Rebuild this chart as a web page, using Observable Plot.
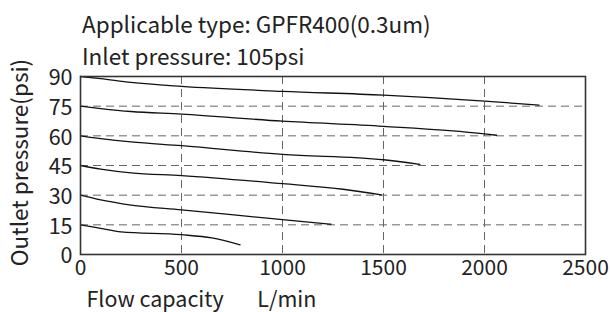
<!DOCTYPE html>
<html>
<head>
<meta charset="utf-8">
<script src="https://cdn.jsdelivr.net/npm/d3@7"></script>
<script src="https://cdn.jsdelivr.net/npm/@observablehq/plot@0.6"></script>
<style>
  html, body { margin: 0; padding: 0; background: #fff; }
  #wrap { position: relative; width: 611px; height: 312px; font-family: "Noto Sans CJK SC", "Noto Sans", sans-serif; color: #222; }
  .t { position: absolute; white-space: pre; font-size: 22.5px; line-height: 1; }
</style>
</head>
<body>
<div id="wrap">
  <div id="chart"></div>
  <div class="t" id="t1" style="left:82px; top:12px;"></div>
  <div class="t" id="t2" style="left:82px; top:44px;"></div>
</div>
<script>
const titleLine1 = "Applicable type: GPFR400(0.3um)";
const titleLine2 = "Inlet pressure: 105psi";
const xLabel = "Flow capacity       L/min";
const yLabel = "Outlet pressure(psi)";
const xTicks = [0, 500, 1000, 1500, 2000, 2500];
const yTicks = [0, 15, 30, 45, 60, 75, 90];

// Curves: flow (L/min), outlet pressure (psi)
const curve90 = [[0, 90], [100, 88.9], [250, 87], [500, 85], [1000, 82.5], [1500, 80.6], [2000, 77.6], [2270, 75.5]];
const curve75 = [[0, 75], [100, 73.8], [250, 72.3], [500, 71], [1000, 67.4], [1500, 64.8], [2000, 61], [2060, 60.3]];
const curve60 = [[0, 60], [100, 58.6], [250, 56.9], [500, 55], [1000, 50.6], [1500, 47.9], [1680, 45.6]];
const curve45 = [[0, 45], [100, 43.2], [250, 41.3], [500, 39.9], [1000, 35.8], [1300, 33], [1490, 30.2]];
const curve30 = [[0, 30], [100, 27.6], [250, 25], [500, 22.6], [1000, 17.6], [1240, 15.3]];
const curve15 = [[0, 15], [100, 13.2], [200, 11.4], [500, 10], [650, 8.4], [790, 4.9]];

const curves = [curve90, curve75, curve60, curve45, curve30, curve15];
const data = curves.flatMap((c, i) => c.map(([x, y]) => ({x, y, id: i})));

document.getElementById("t1").textContent = titleLine1;
document.getElementById("t2").textContent = titleLine2;

const font = "Noto Sans CJK SC, Noto Sans, sans-serif";
const chart = Plot.plot({
  width: 611,
  height: 312,
  marginLeft: 80,
  marginRight: 26,
  marginTop: 76,
  marginBottom: 58,
  style: {fontFamily: font, fontSize: "21px", color: "#222", background: "#fff"},
  x: {domain: [0, 2500], ticks: xTicks},
  y: {domain: [0, 90], ticks: yTicks},
  marks: [
    Plot.gridX(xTicks.slice(1, -1), {stroke: "#666", strokeOpacity: 1, strokeDasharray: "8,5", strokeWidth: 1}),
    Plot.gridY(yTicks.slice(1, -1), {stroke: "#666", strokeOpacity: 1, strokeDasharray: "8,5", strokeWidth: 1}),
    Plot.axisX({ticks: xTicks, tickSize: 0, tickPadding: 6, fontSize: 21, label: null, fill: "#222", tickFormat: d => String(d)}),
    Plot.axisY({ticks: yTicks, tickSize: 0, tickPadding: 8, dy: 2, fontSize: 21.5, label: null, fill: "#222", tickFormat: d => String(d)}),
    Plot.line(data, {x: "x", y: "y", z: "id", curve: "monotone-x", stroke: "#111", strokeWidth: 1.3}),
    Plot.frame({stroke: "#333", strokeWidth: 1.6}),
    Plot.text([xLabel], {frameAnchor: "bottom-left", dx: 6, dy: 45.5, lineAnchor: "middle", text: d => d, textAnchor: "start", fontSize: 21.5, fill: "#222"}),
    Plot.text([yLabel], {frameAnchor: "left", dx: -60, dy: -3, rotate: -90, lineAnchor: "middle", text: d => d, textAnchor: "middle", fontSize: 22.5, fill: "#222"})
  ]
});
document.getElementById("chart").appendChild(chart);
</script>
</body>
</html>
